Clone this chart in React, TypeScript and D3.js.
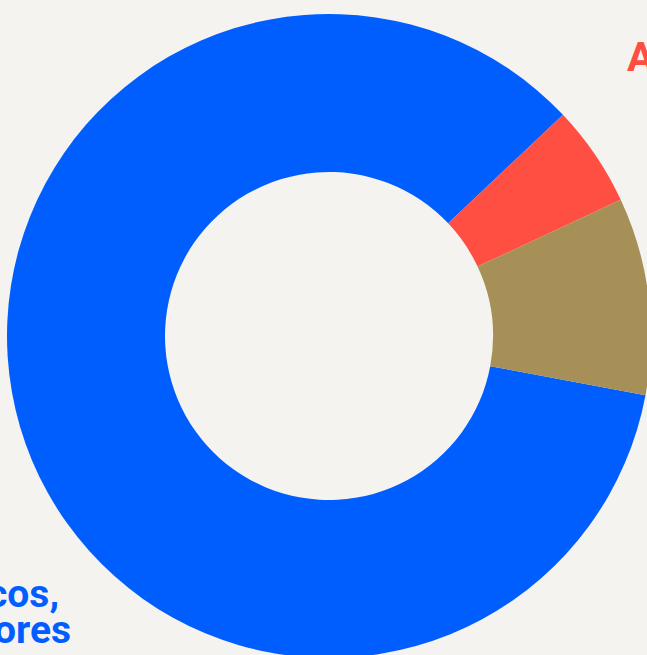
import React, { useEffect, useRef } from 'react';
import * as d3 from 'd3';

const categories = ['Servicios públicos, trabajadores', 'Agricultura', 'Otros'];
const values = [85.0, 5.1, 9.9];
const colors = ['#005eff', '#ff4f42', '#a69057'];

const WIDTH = 647;
const HEIGHT = 655;

export default function App() {
  const svgRef = useRef<SVGSVGElement>(null);

  useEffect(() => {
    document.body.style.margin = '0';
    if (!svgRef.current) return;
    const svg = d3.select(svgRef.current);
    svg.selectAll('*').remove();

    svg.append('rect').attr('width', WIDTH).attr('height', HEIGHT).attr('fill', '#f4f3ef');

    const cx = 329;
    const cy = 336;
    const outer = 322;
    const inner = 164;

    // blue slice starts just past the right side and wraps round to the top-right
    const start = (100.6 * Math.PI) / 180;
    const pie = d3.pie<number>().sort(null).startAngle(start).endAngle(start + 2 * Math.PI);
    const arcs = pie(values);
    const arc = d3.arc<d3.PieArcDatum<number>>().innerRadius(inner).outerRadius(outer);

    const g = svg.append('g').attr('transform', `translate(${cx},${cy})`);
    g.selectAll('path')
      .data(arcs)
      .enter()
      .append('path')
      .attr('d', arc)
      .attr('fill', (d, i) => colors[i]);

    const font = 'Roboto, "Noto Sans", sans-serif';

    // red label, cut off at the right edge
    svg.append('text')
      .attr('x', 627)
      .attr('y', 71)
      .attr('font-family', font)
      .attr('font-weight', 700)
      .attr('font-size', 41)
      .attr('fill', colors[1])
      .text(categories[1]);

    // blue label, cut off at the left edge
    const words = categories[0].split(' ');
    const blueLines = [words[0] + ' ' + words[1], words[2]];
    const ends = [59, 71];
    svg.append('g')
      .selectAll('text')
      .data(blueLines)
      .enter()
      .append('text')
      .attr('x', (d, i) => ends[i])
      .attr('y', (d, i) => 607 + i * 36)
      .attr('text-anchor', 'end')
      .attr('font-family', font)
      .attr('font-weight', 700)
      .attr('font-size', 39)
      .attr('fill', colors[0])
      .text(d => d);
  }, []);

  return (
    <svg
      ref={svgRef}
      width={WIDTH}
      height={HEIGHT}
      style={{ position: 'fixed', top: 0, left: 0, display: 'block' }}
    />
  );
}
